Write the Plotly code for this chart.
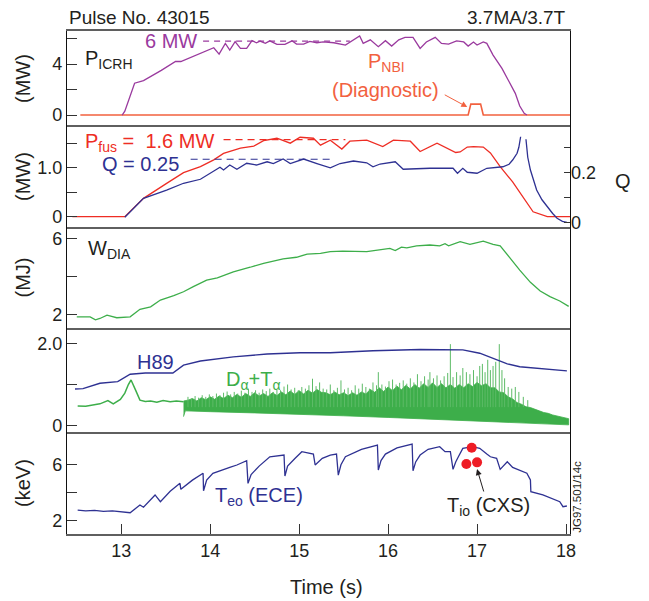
import plotly.graph_objects as go

# ---------------- data ----------------
# Panel 1: ICRH power (MW) and diagnostic NBI power (MW)
icrh_t = [13.01, 13.04, 13.15, 13.25, 13.45, 13.61, 13.67, 13.85, 14.04, 14.10, 14.17, 14.22, 14.28, 14.34,
          14.41, 14.47, 14.52, 14.56, 14.62, 14.67, 14.75, 14.84, 14.92, 14.97, 15.05, 15.12, 15.20, 15.27,
          15.39, 15.52, 15.59, 15.68, 15.72, 15.80, 15.89, 15.97, 16.04, 16.12, 16.19, 16.28, 16.36, 16.43,
          16.53, 16.60, 16.68, 16.77, 16.85, 16.90, 16.96, 17.00, 17.07, 17.11, 17.18, 17.28, 17.35, 17.43,
          17.48, 17.53, 17.56]
icrh_mw = [0.0, 0.3, 2.5, 2.7, 3.5, 4.2, 4.2, 4.7, 5.28, 4.78, 5.62, 5.1, 5.75, 5.23,
           5.23, 5.83, 5.67, 5.8, 5.62, 5.82, 5.54, 5.54, 5.82, 5.56, 5.56, 5.78, 5.67, 5.73,
           5.67, 5.49, 5.83, 6.2, 5.62, 5.9, 5.36, 5.83, 5.41, 5.9, 6.09, 6.09, 5.23, 5.73,
           6.09, 5.62, 5.56, 5.82, 5.73, 5.41, 5.73, 5.49, 5.73, 5.62, 4.7, 3.66, 2.75, 1.7,
           0.71, 0.13, 0.0]
nbi_t = [12.54, 16.90, 16.93, 17.04, 17.07, 18.045]
nbi_mw = [0.0, 0.0, 0.86, 0.86, 0.0, 0.0]
icrh_ref_t = [13.92, 15.57]
icrh_ref_mw = [5.8, 5.8]

# Panel 2: fusion power (MW) and Q
pfus_t = [12.45, 13.04, 13.25, 13.36, 13.51, 13.70, 13.89, 14.04, 14.15, 14.34, 14.49, 14.60, 14.75,
          14.90, 15.01, 15.16, 15.24, 15.35, 15.48, 15.57, 15.76, 15.94, 16.06, 16.25, 16.36, 16.55,
          16.76, 16.81, 16.89, 16.96, 17.07, 17.15, 17.26, 17.40, 17.54, 17.63, 17.79, 18.045]
pfus_mw = [0.0, 0.0, 0.375, 0.51, 0.68, 0.9, 1.02, 1.16, 1.29, 1.4, 1.44, 1.55, 1.6,
           1.5, 1.62, 1.6, 1.46, 1.56, 1.38, 1.54, 1.56, 1.43, 1.56, 1.54, 1.33, 1.5,
           1.31, 1.32, 1.42, 1.43, 1.42, 1.3, 1.02, 0.71, 0.34, 0.1, 0.0, 0.0]
q_t = [13.04, 13.25, 13.51, 13.70, 13.89, 14.00, 14.11, 14.15, 14.22, 14.30, 14.41, 14.52, 14.64,
       14.71, 14.82, 14.90, 15.05, 15.20, 15.35, 15.46, 15.61, 15.76, 15.83, 15.91, 16.08, 16.17,
       16.47, 16.73, 16.78, 16.84, 16.89, 17.00, 17.11, 17.29, 17.36, 17.40, 17.45, 17.47, 17.49,
       None,
       17.55, 17.57, 17.60, 17.64, 17.67, 17.73, 17.79, 17.85, 17.90, 17.96, 18.01]
q_val = [0.02, 0.096, 0.129, 0.156, 0.172, 0.196, 0.22, 0.209, 0.229, 0.212, 0.236, 0.229, 0.242,
         0.235, 0.253, 0.235, 0.253, 0.235, 0.218, 0.235, 0.245, 0.238, 0.222, 0.233, 0.242, 0.212,
         0.216, 0.216, 0.196, 0.216, 0.2, 0.196, 0.216, 0.222, 0.232, 0.249, 0.276, 0.30, 0.342,
         None,
         0.332, 0.26, 0.209, 0.16, 0.129, 0.09, 0.062, 0.035, 0.016, 0.004, 0.0]
pfus_ref_t = [14.15, 15.52]
pfus_ref_mw = [1.57, 1.57]
q_ref_t = [13.78, 15.35]
q_ref_val = [0.252, 0.252]

# Panel 3: diamagnetic stored energy (MJ)
wdia_t = [12.50, 12.65, 12.71, 12.76, 12.84, 12.95, 13.10, 13.21, 13.33, 13.44, 13.59, 13.70, 13.81,
          13.96, 14.08, 14.26, 14.45, 14.60, 14.82, 14.97, 15.09, 15.24, 15.35, 15.49, 15.76, 15.91,
          16.02, 16.08, 16.15, 16.21, 16.32, 16.47, 16.58, 16.64, 16.68, 16.81, 16.92, 17.07, 17.18,
          17.26, 17.37, 17.48, 17.60, 17.71, 17.82, 17.93, 18.03]
wdia_mj = [1.86, 1.86, 1.71, 1.78, 1.96, 1.82, 1.87, 2.27, 2.40, 2.76, 2.99, 3.2, 3.47,
           3.82, 3.94, 4.26, 4.5, 4.71, 4.94, 5.03, 5.2, 5.24, 5.33, 5.36, 5.33, 5.41,
           5.5, 5.39, 5.57, 5.53, 5.64, 5.68, 5.64, 5.75, 5.64, 5.86, 5.72, 5.89, 5.72,
           5.64, 4.97, 4.35, 3.70, 3.24, 2.94, 2.71, 2.42]

# Panel 4: H89 factor and D-alpha + T-alpha (a.u.)
h89_t = [12.48, 12.57, 12.76, 12.96, 13.10, 13.27, 13.58, 13.70, 13.89, 14.26, 14.64, 15.01, 15.35,
         15.83, 16.36, 16.84, 17.03, 17.18, 17.34, 17.48, 17.71, 18.01]
h89_val = [0.89, 0.9, 1.03, 1.07, 1.25, 1.28, 1.28, 1.47, 1.57, 1.67, 1.74, 1.77, 1.77,
           1.82, 1.85, 1.84, 1.76, 1.64, 1.5, 1.43, 1.39, 1.33]
da_early_t = [12.51, 12.60, 12.68, 12.76, 12.85, 12.91, 12.99, 13.04, 13.08, 13.11, 13.16, 13.21,
              13.27, 13.33, 13.40, 13.47, 13.55, 13.62, 13.70]
da_early_val = [0.48, 0.47, 0.50, 0.53, 0.61, 0.53, 0.64, 0.79, 1.0, 1.11, 0.87, 0.62,
                0.59, 0.6, 0.57, 0.61, 0.58, 0.6, 0.58]
da_top_t = [13.70, 13.75, 13.80, 13.85, 13.90, 13.95, 14.00, 14.05, 14.10, 14.15, 14.20, 14.25, 14.30,
            14.35, 14.40, 14.45, 14.50, 14.55, 14.60, 14.65, 14.70, 14.75, 14.80, 14.85, 14.90, 14.95,
            15.00, 15.05, 15.10, 15.15, 15.20, 15.25, 15.30, 15.35, 15.40, 15.45, 15.50, 15.55, 15.60,
            15.65, 15.70, 15.75, 15.80, 15.85, 15.90, 15.95, 16.00, 16.05, 16.10, 16.15, 16.20, 16.25,
            16.30, 16.35, 16.40, 16.45, 16.50, 16.55, 16.60, 16.65, 16.70, 16.75, 16.80, 16.85, 16.90,
            16.95, 17.00, 17.05, 17.10, 17.15, 17.20, 17.25, 17.30, 17.35, 17.40, 17.45, 17.50, 17.55,
            17.60, 17.65, 17.70, 17.75, 17.80, 17.85, 17.90, 17.95, 18.00, 18.03]
da_top_val = [0.60, 0.62, 0.66, 0.60, 0.68, 0.63, 0.70, 0.64, 0.72, 0.66, 0.74, 0.68, 0.76,
              0.69, 0.78, 0.71, 0.80, 0.72, 0.78, 0.71, 0.80, 0.73, 0.82, 0.75, 0.84, 0.76,
              0.85, 0.77, 0.86, 0.79, 0.88, 0.81, 0.80, 0.75, 0.82, 0.75, 0.80, 0.73, 0.80,
              0.74, 0.82, 0.77, 0.88, 0.81, 0.92, 0.83, 0.94, 0.85, 0.96, 0.87, 0.98, 0.89,
              1.00, 0.91, 1.02, 0.93, 1.04, 0.93, 1.02, 0.92, 1.00, 0.91, 1.00, 0.92, 1.02,
              0.95, 1.05, 0.97, 1.02, 0.92, 0.92, 0.82, 0.80, 0.70, 0.65, 0.56, 0.52, 0.46,
              0.44, 0.39, 0.36, 0.32, 0.30, 0.26, 0.24, 0.21, 0.19, 0.17]
da_low_t = [13.70, 13.72, 14.00, 14.50, 15.00, 15.50, 16.00, 16.50, 17.00, 17.50, 18.03]
da_low_val = [0.22, 0.36, 0.34, 0.31, 0.28, 0.24, 0.20, 0.16, 0.12, 0.07, 0.02]
spike_t = [13.75, 13.79, 13.83, 13.87, 13.91, 13.95, 13.99, 14.03, 14.07, 14.11, 14.15, 14.19, 14.23,
           14.27, 14.31, 14.35, 14.39, 14.43, 14.47, 14.51, 14.55, 14.59, 14.63, 14.67, 14.71, 14.75,
           14.79, 14.83, 14.87, 14.91, 14.95, 14.99, 15.03, 15.07, 15.11, 15.15, 15.19, 15.23, 15.27,
           15.31, 15.35, 15.39, 15.43, 15.47, 15.51, 15.55, 15.59, 15.63, 15.67, 15.71, 15.75, 15.79,
           15.83, 15.87, 15.89, 15.93, 15.97, 16.01, 16.05, 16.09, 16.13, 16.17, 16.21, 16.25, 16.29,
           16.33, 16.37, 16.41, 16.45, 16.47, 16.51, 16.55, 16.59, 16.63, 16.67, 16.70, 16.73, 16.77,
           16.81, 16.84, 16.88, 16.92, 16.96, 17.00, 17.03, 17.06, 17.09, 17.12, 17.15, 17.18, 17.21,
           17.25, 17.28, 17.31, 17.35, 17.39, 17.43, 17.47, 17.52, 17.57]
spike_top = [0.70, 0.66, 0.72, 0.68, 0.74, 0.70, 0.76, 0.72, 0.78, 0.74, 0.80, 0.83, 0.76,
             0.82, 0.78, 0.85, 0.80, 0.90, 0.82, 0.86, 0.80, 0.88, 0.84, 0.90, 0.82, 0.88,
             0.86, 0.95, 1.00, 0.88, 0.92, 0.86, 0.94, 0.90, 0.98, 1.14, 0.96, 1.05, 0.90,
             0.88, 1.00, 0.86, 0.92, 1.10, 0.88, 0.92, 0.86, 0.98, 0.90, 1.02, 0.94, 0.90,
             1.05, 0.98, 1.30, 1.00, 0.95, 1.08, 1.12, 1.00, 1.04, 1.10, 1.02, 1.15, 1.05,
             1.25, 1.08, 1.20, 1.12, 1.30, 1.15, 1.22, 1.10, 1.20, 1.28, 1.98, 1.18, 1.30,
             1.22, 1.40, 1.30, 1.25, 1.35, 1.20, 1.45, 1.50, 1.30, 1.60, 1.35, 1.45, 1.55,
             1.98, 1.35, 1.15, 0.94, 0.90, 0.94, 0.82, 0.70, 0.62]
spike_base = [0.45] * len(spike_t)

# Panel 5: central electron temperature (keV) and ion temperature points
teo_t = [12.51, 12.60, 12.70, 12.80, 12.90, 13.00, 13.10, 13.21, 13.25, 13.38, 13.44, 13.55, 13.66,
         13.67, 13.80, 13.92, 13.925, 13.96, 14.03, 14.22, 14.30, 14.41, 14.425, 14.46, 14.55, 14.67,
         14.83, 14.84, 14.87, 14.955, 15.03, 15.16, 15.18, 15.26, 15.35, 15.42, 15.44, 15.47, 15.52,
         15.70, 15.88, 15.89, 15.92, 15.97, 16.10, 16.27, 16.28, 16.31, 16.36, 16.45, 16.58, 16.64,
         16.70, 16.73, 16.76, 16.79, 16.84, 16.95, 17.03, 17.11, 17.15, 17.22, 17.26, 17.34, 17.40,
         17.56, 17.60, 17.605, 17.74, 17.93, 17.966, 18.01]
teo_kev = [2.76, 2.70, 2.74, 2.66, 2.70, 2.66, 2.57, 3.12, 2.96, 3.84, 3.36, 4.1, 4.67,
           4.24, 4.9, 5.39, 4.14, 4.9, 5.39, 5.81, 5.98, 6.29, 4.67, 5.3, 5.9, 6.57,
           6.69, 5.19, 5.9, 6.46, 6.93, 6.76, 5.98, 6.46, 6.69, 6.76, 5.26, 6.0, 6.57,
           7.1, 7.41, 5.62, 6.3, 6.76, 7.2, 7.48, 5.57, 6.2, 6.69, 7.1, 7.29, 6.93,
           6.93, 5.67, 6.2, 6.57, 7.17, 7.3, 7.17, 6.76, 6.57, 6.46, 5.67, 6.21, 5.81,
           5.39, 4.91, 4.07, 3.84, 3.36, 3.0, 3.05]
tio_t = [16.94, 16.88, 17.00]
tio_kev = [7.21, 6.05, 6.17]

x_ticks = [13, 14, 15, 16, 17, 18]

# ---------------- styles ----------------
PURPLE = "#9A3A9E"
NBI_RED = "#F2613F"
RED = "#EE2D24"
BLUE = "#2E3192"
GREEN = "#3DAE4A"
GREEN_LIGHT = "#5DBB67"
DARK = "#231F20"
FONT = "Liberation Sans, Arial, sans-serif"

fig = go.Figure()

def tr(x, y, row, color, width=1.3, dash=None, yax=None):
    fig.add_trace(go.Scatter(x=x, y=y, mode="lines", xaxis=f"x{row}" if row > 1 else "x",
                             yaxis=yax or (f"y{row}" if row > 1 else "y"),
                             line=dict(color=color, width=width, dash=dash), showlegend=False,
                             hoverinfo="skip"))

# Panel 1
tr(nbi_t, nbi_mw, 1, NBI_RED, 1.6)
tr(icrh_t, icrh_mw, 1, PURPLE)
tr(icrh_ref_t, icrh_ref_mw, 1, PURPLE, 1.2, "6px,5px")
# Panel 2
tr(q_t, q_val, 2, BLUE, yax="y6")
tr(pfus_t, pfus_mw, 2, RED)
tr(pfus_ref_t, pfus_ref_mw, 2, RED, 1.2, "7px,5px")
tr(q_ref_t, q_ref_val, 2, BLUE, 1.2, "7px,5px", yax="y6")
# Panel 3
tr(wdia_t, wdia_mj, 3, GREEN)
# Panel 4
fig.add_trace(go.Scatter(x=da_top_t + da_low_t[::-1], y=da_top_val + da_low_val[::-1],
                         mode="lines", fill="toself", fillcolor=GREEN,
                         line=dict(color=GREEN, width=0.8), xaxis="x4", yaxis="y4",
                         showlegend=False, hoverinfo="skip"))
sx, sy = [], []
for t, b, p in zip(spike_t, spike_base, spike_top):
    sx += [t, t, None]
    sy += [b, p, None]
fig.add_trace(go.Scatter(x=sx, y=sy, mode="lines", line=dict(color=GREEN_LIGHT, width=1.0),
                         xaxis="x4", yaxis="y4", showlegend=False, hoverinfo="skip"))
tr(da_early_t, da_early_val, 4, GREEN, 1.5)
tr(h89_t, h89_val, 4, BLUE, 1.4)
# Panel 5
tr(teo_t, teo_kev, 5, BLUE)
fig.add_trace(go.Scatter(x=tio_t, y=tio_kev, mode="markers", xaxis="x5", yaxis="y5",
                         marker=dict(color="#EE1C25", size=10), showlegend=False, hoverinfo="skip"))

# ---------------- layout ----------------
# the page body adds an 8px offset, so the figure is 8px smaller than the window
doms = [[0.8131, 1.0], [0.6103, 0.8131], [0.4095, 0.6103], [0.2028, 0.4095], [0.0, 0.2028]]
yranges = [[-0.78, 6.59], [-0.21, 1.87], [1.273, 6.636], [-0.153, 2.371], [1.05, 8.34]]
ytv = [[0, 2, 4, 6], [0, 0.5, 1.0, 1.5], [2, 4, 6], [0, 1, 2], [2, 4, 6]]
ytt = [["0", "", "4", ""], ["0", "", "1.0", ""], ["2", "", "6"], ["0", "", "2.0"], ["2", "", "6"]]
XR = [12.39, 18.045]
tickfont = dict(family=FONT, size=18, color=DARK)

layout = dict(width=641, height=593, margin=dict(l=59, r=79, t=23, b=67),
              paper_bgcolor="white", plot_bgcolor="white", font=dict(family=FONT, color=DARK))
for i in range(5):
    n = "" if i == 0 else str(i + 1)
    yname = "y" + n
    bottom = (i == 4)
    layout["xaxis" + n] = dict(domain=[0, 1], range=XR, anchor=yname, showgrid=False, zeroline=False,
                               showline=True, linecolor="#5f5f5f", linewidth=1.5, mirror=(i == 0),
                               ticks="inside" if bottom else "", ticklen=10, tickcolor="#333",
                               tickvals=x_ticks, showticklabels=bottom, tickfont=tickfont,
                               fixedrange=True)
    layout["yaxis" + n] = dict(domain=doms[i], range=yranges[i], anchor="x" + n, showgrid=False,
                               zeroline=False, showline=True, linecolor="#111", linewidth=1.3,
                               mirror=True, ticks="inside", ticklen=10, tickcolor="#333",
                               tickvals=ytv[i], ticktext=ytt[i], tickfont=tickfont, fixedrange=True)
layout["yaxis6"] = dict(overlaying="y2", side="right", anchor="x2", range=[-0.019, 0.389],
                        showgrid=False, zeroline=False, showline=False, ticks="inside", ticklen=6,
                        tickcolor="#333", tickvals=[0, 0.1, 0.2, 0.3], ticktext=["0", "", "0.2", ""],
                        tickfont=tickfont, fixedrange=True)
fig.update_layout(**layout)

AF = 20
ann = []
def A(text, x, y, xref, yref, color=DARK, size=AF, xanchor="left", yanchor="middle", angle=0):
    ann.append(dict(text=text, x=x, y=y, xref=xref, yref=yref, showarrow=False, xanchor=xanchor,
                    yanchor=yanchor, textangle=angle, font=dict(family=FONT, size=size, color=color)))

A("Pulse No. 43015", 0.0, 1.026, "paper", "paper", size=19)
A("3.7MA/3.7T", 0.996, 1.026, "paper", "paper", size=19, xanchor="right")
A("P<sub>ICRH</sub>", 12.57, 4.35, "x", "y")
A("6 MW", 13.87, 5.8, "x", "y", color=PURPLE, xanchor="right")
A("P<sub>NBI</sub>", 15.98, 4.1, "x", "y", color=NBI_RED, xanchor="center")
A("(Diagnostic)", 15.97, 1.96, "x", "y", color=NBI_RED, xanchor="center")
A("P<sub>fus</sub> =  1.6 MW", 12.57, 1.52, "x2", "y2", color=RED)
A("Q = 0.25", 12.76, 1.07, "x2", "y2", color=BLUE)
A("W<sub>DIA</sub>", 12.60, 5.42, "x3", "y3")
A("H89", 13.16, 1.55, "x4", "y4", color=BLUE)
A("D<sub>α</sub>+T<sub>α</sub>", 14.15, 1.1, "x4", "y4", color=GREEN)
A("T<sub>eo</sub> (ECE)", 14.03, 3.7, "x5", "y5", color=BLUE)
A("T<sub>io</sub> (CXS)", 16.64, 3.0, "x5", "y5")
A("Time (s)", 0.515, -0.106, "paper", "paper", xanchor="center")
A("JG97.501/14c", 1.014, 0.074, "paper", "paper", size=11.5, xanchor="center", angle=-90)
A("Q", 1.105, 0.7015, "paper", "paper", xanchor="center")
for lbl, dom in zip(["(MW)", "(MW)", "(MJ)", None, "(keV)"], doms):
    if lbl:
        A(lbl, -0.0875, (dom[0] + dom[1]) / 2, "paper", "paper", xanchor="center", angle=-90)

ann.append(dict(x=16.89, y=0.63, ax=16.62, ay=1.65, xref="x", yref="y", axref="x", ayref="y",
                showarrow=True, arrowhead=2, arrowsize=1.2, arrowwidth=1, arrowcolor=NBI_RED, text=""))
ann.append(dict(x=17.0, y=5.69, ax=17.08, ay=3.98, xref="x5", yref="y5", axref="x5", ayref="y5",
                showarrow=True, arrowhead=2, arrowsize=1.2, arrowwidth=1, arrowcolor=DARK, text=""))
fig.update_layout(annotations=ann)

fig.write_html("out.html")
